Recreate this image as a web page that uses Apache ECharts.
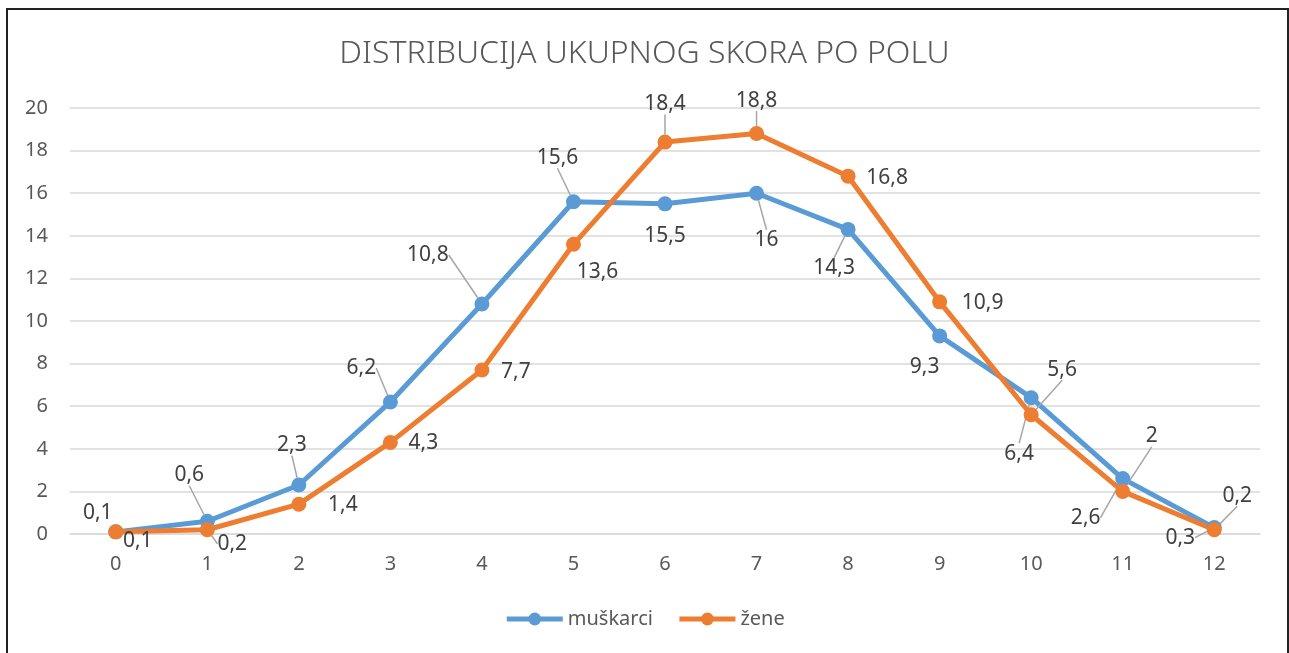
<!DOCTYPE html>
<html>
<head>
<meta charset="utf-8">
<script src="https://cdn.jsdelivr.net/npm/echarts@6/dist/echarts.min.js"></script>
<style>
  html, body { margin: 0; padding: 0; background: #fff; }
  #chart { width: 1289px; height: 653px; }
</style>
</head>
<body>
<div id="chart"></div>
<script>
const categories = ['0', '1', '2', '3', '4', '5', '6', '7', '8', '9', '10', '11', '12']
const muskarci = [0.1, 0.6, 2.3, 6.2, 10.8, 15.6, 15.5, 16, 14.3, 9.3, 6.4, 2.6, 0.3]
const zene = [0.1, 0.2, 1.4, 4.3, 7.7, 13.6, 18.4, 18.8, 16.8, 10.9, 5.6, 2, 0.2]

// label offsets from the point (px) and whether a leader line is drawn
const offsets = [
  [[-18, -19], [-18, -46], [-7, -40], [-29, -34], [-54, -49], [-16, -44], [0, 32], [10, 47], [-14, 39], [-15, 31], [-12, 56], [-37, 39], [-34, 10]],
  [[22, 9], [25, 14], [44, 1], [33, 1], [34, 2], [24, 28], [0, -38], [0, -33], [39, 2], [43, 1], [31, -45], [29, -55], [23, -34]]
]
const leaders = [
  [0, 1, 1, 1, 1, 1, 0, 1, 1, 0, 1, 1, 1],
  [0, 1, 0, 0, 0, 0, 1, 1, 0, 0, 1, 1, 1]
]

const font = 'Noto Sans'
const fmt = (v) => String(v).replace('.', ',')

const makeData = (values, s) => values.map((v, i) => ({
  value: v,
  labelLine: { show: !!leaders[s][i] }
}))

const makeSeries = (name, values, color, s) => ({
  name: name,
  type: 'line',
  data: makeData(values, s),
  symbol: 'circle',
  symbolSize: 15,
  itemStyle: { color: color },
  lineStyle: { color: color, width: 5 },
  label: {
    show: true,
    position: 'top',
    formatter: (p) => fmt(p.value),
    color: '#404040',
    fontSize: 21,
    fontFamily: font
  },
  labelLine: {
    lineStyle: { color: '#a6a6a6', width: 1.5 }
  },
  labelLayout: function (p) {
    const o = offsets[s][p.dataIndex]
    return {
      x: p.rect.x + p.rect.width / 2 + o[0],
      y: p.rect.y + p.rect.height / 2 + o[1],
      align: 'center',
      verticalAlign: 'middle'
    }
  },
  emphasis: { disabled: true },
  animation: false
})

const chart = echarts.init(document.getElementById('chart'))
chart.setOption({
  animation: false,
  backgroundColor: '#fff',
  graphic: [{
    type: 'rect',
    shape: { x: 7, y: 9, width: 1281, height: 700 },
    style: { fill: 'none', stroke: '#222', lineWidth: 2 },
    silent: true
  }],
  title: {
    text: 'DISTRIBUCIJA UKUPNOG SKORA PO POLU',
    left: 'center',
    top: 33,
    textStyle: { color: '#595959', fontSize: 32, fontWeight: 300, fontFamily: font }
  },
  legend: {
    bottom: 19,
    left: 'center',
    itemWidth: 56,
    itemHeight: 16,
    itemGap: 24,
    lineStyle: { width: 5 },
    textStyle: { color: '#595959', fontSize: 20, fontFamily: font },
    data: ['muškarci', 'žene']
  },
  grid: { left: 70, right: 29, top: 108, bottom: 119 },
  xAxis: {
    type: 'category',
    data: categories,
    boundaryGap: true,
    axisLine: { lineStyle: { color: '#d9d9d9', width: 1.5 } },
    axisTick: { show: false },
    axisLabel: { color: '#595959', fontSize: 20, fontFamily: font, margin: 20 }
  },
  yAxis: {
    type: 'value',
    min: 0,
    max: 20,
    interval: 2,
    axisLine: { show: false },
    axisTick: { show: false },
    axisLabel: { color: '#595959', fontSize: 20, fontFamily: font, margin: 22 },
    splitLine: { lineStyle: { color: '#d9d9d9', width: 1.5 } }
  },
  series: [
    makeSeries('muškarci', muskarci, '#5b9bd5', 0),
    makeSeries('žene', zene, '#ed7d31', 1)
  ]
})
</script>
</body>
</html>
